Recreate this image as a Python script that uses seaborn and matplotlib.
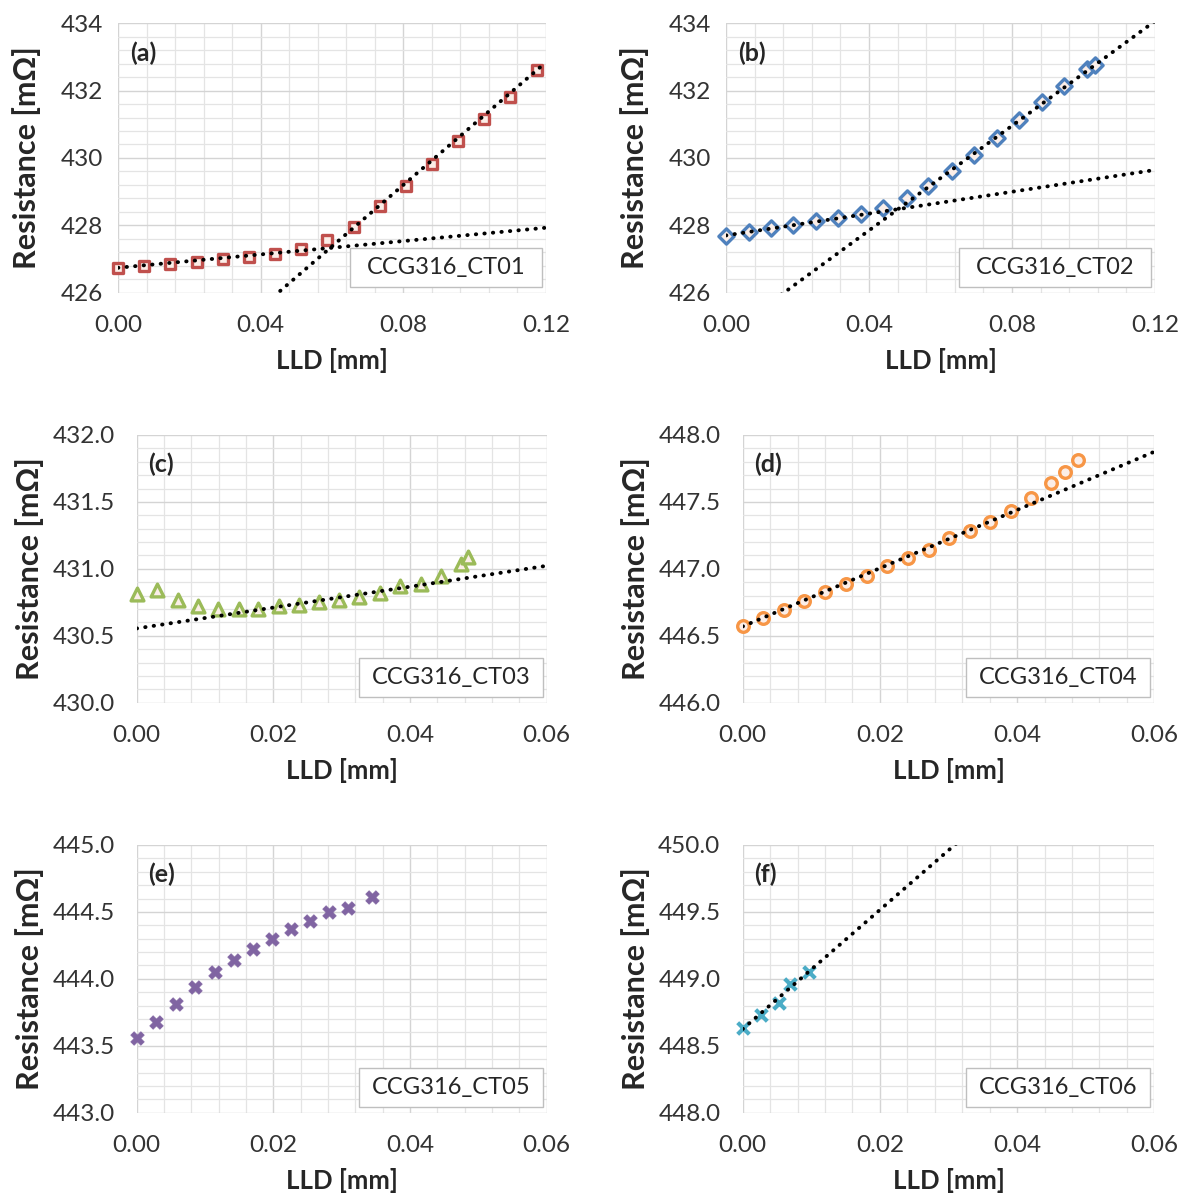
import matplotlib
matplotlib.use("Agg")
import numpy as np
import pandas as pd
import matplotlib.pyplot as plt
import matplotlib.ticker as mtick
from matplotlib.patches import Rectangle
import seaborn as sns

# ---- data (LLD in mm, resistance in mOhm) ----
ct01_lld = [0.0, 0.0074, 0.0146, 0.0221, 0.0295, 0.0367, 0.0440, 0.0513, 0.0587,
            0.0662, 0.0735, 0.0807, 0.0880, 0.0952, 0.1027, 0.1099, 0.1174]
ct01_res = [426.73, 426.78, 426.84, 426.90, 426.99, 427.06, 427.14, 427.29, 427.56,
            427.94, 428.57, 429.18, 429.83, 430.50, 431.15, 431.80, 432.60]

ct02_lld = [0.0, 0.0063, 0.0125, 0.0188, 0.0252, 0.0314, 0.0378, 0.0440, 0.0505,
            0.0566, 0.0631, 0.0695, 0.0757, 0.0820, 0.0883, 0.0945, 0.1009, 0.1032]
ct02_res = [427.68, 427.80, 427.92, 428.02, 428.12, 428.21, 428.33, 428.50, 428.80,
            429.18, 429.60, 430.10, 430.60, 431.12, 431.65, 432.13, 432.65, 432.75]

ct03_lld = [0.0, 0.0030, 0.0061, 0.0089, 0.0119, 0.0149, 0.0178, 0.0208, 0.0238,
            0.0267, 0.0296, 0.0326, 0.0356, 0.0386, 0.0416, 0.0445, 0.0474, 0.0485]
ct03_res = [430.81, 430.84, 430.77, 430.72, 430.70, 430.70, 430.70, 430.72, 430.73,
            430.75, 430.77, 430.79, 430.82, 430.87, 430.89, 430.95, 431.04, 431.09]

ct04_lld = [0.0, 0.0030, 0.0060, 0.0090, 0.0120, 0.0151, 0.0181, 0.0211, 0.0241,
            0.0272, 0.0301, 0.0331, 0.0361, 0.0391, 0.0420, 0.0450, 0.0470, 0.0489]
ct04_res = [446.57, 446.63, 446.69, 446.76, 446.83, 446.89, 446.95, 447.02, 447.08,
            447.14, 447.23, 447.28, 447.35, 447.43, 447.53, 447.64, 447.72, 447.81]

ct05_lld = [0.0, 0.0028, 0.0057, 0.0086, 0.0114, 0.0142, 0.0170, 0.0198, 0.0226,
            0.0254, 0.0282, 0.0309, 0.0345]
ct05_res = [443.56, 443.68, 443.81, 443.94, 444.05, 444.14, 444.22, 444.30, 444.37,
            444.43, 444.50, 444.53, 444.61]

ct06_lld = [0.0, 0.0027, 0.0053, 0.0069, 0.0096]
ct06_res = [448.63, 448.73, 448.82, 448.96, 449.05]

# linear trend lines (intercept, slope)
ct01_fits = [(426.74, 9.9), (421.91, 91.1)]
ct02_fits = [(427.70, 16.2), (424.74, 77.7)]
ct03_fits = [(430.555, 7.8)]
ct04_fits = [(446.57, 21.75)]
ct05_fits = []
ct06_fits = [(448.625, 44.5)]

panels = [
    ("(a)", "CCG316_CT01", ct01_lld, ct01_res, ct01_fits, "#C0504D", "s"),
    ("(b)", "CCG316_CT02", ct02_lld, ct02_res, ct02_fits, "#4F81BD", "D"),
    ("(c)", "CCG316_CT03", ct03_lld, ct03_res, ct03_fits, "#9BBB59", "^"),
    ("(d)", "CCG316_CT04", ct04_lld, ct04_res, ct04_fits, "#F79646", "o"),
    ("(e)", "CCG316_CT05", ct05_lld, ct05_res, ct05_fits, "#8064A2", "X"),
    ("(f)", "CCG316_CT06", ct06_lld, ct06_res, ct06_fits, "#4BACC6", "x"),
]

# axes limits / ticks per panel: (xmax, xmajor, ymin, ymax, ymajor, yfmt)
scales = [
    (0.12, 0.04, 426, 434, 2, "%.0f"),
    (0.12, 0.04, 426, 434, 2, "%.0f"),
    (0.06, 0.02, 430, 432, 0.5, "%.1f"),
    (0.06, 0.02, 446, 448, 0.5, "%.1f"),
    (0.06, 0.02, 443, 445, 0.5, "%.1f"),
    (0.06, 0.02, 448, 450, 0.5, "%.1f"),
]

# axes rectangles in figure fraction
rects = [
    (0.0992, 0.7557, 0.3596, 0.2249),
    (0.6101, 0.7557, 0.3605, 0.2249),
    (0.1149, 0.4134, 0.3445, 0.2235),
    (0.6241, 0.4134, 0.3459, 0.2235),
    (0.1149, 0.0712, 0.3445, 0.2235),
    (0.6241, 0.0712, 0.3459, 0.2235),
]
ylab_x = [-0.18, -0.18, -0.225, -0.225, -0.225, -0.225]
ytick_pad = [11, 11, 16, 16, 16, 16]

sns.set_theme(style="white")
plt.rcParams['font.family'] = ['Lato', 'DejaVu Sans']

fig = plt.figure(figsize=(11.9, 11.98), dpi=100)

for i, ((tag, name, xs, ys, fits, color, marker), sc, rect) in enumerate(zip(panels, scales, rects)):
    xmax, xmaj, ymin, ymax, ymaj, yfmt = sc
    ax = fig.add_axes(rect)
    df = pd.DataFrame({"LLD": xs, "R": ys})

    if marker == "x":
        sns.scatterplot(data=df, x="LLD", y="R", ax=ax, marker="x", s=70,
                        color=color, linewidth=3.0, zorder=3, clip_on=False)
    elif marker == "X":
        sns.scatterplot(data=df, x="LLD", y="R", ax=ax, marker="X", s=95,
                        color=color, edgecolor=color, linewidth=0.5, zorder=3,
                        clip_on=False)
    else:
        size = {"s": 62, "D": 60, "^": 85, "o": 70}[marker]
        sns.scatterplot(data=df, x="LLD", y="R", ax=ax, marker=marker, s=size,
                        facecolor="#fbeee8", edgecolor=color, linewidth=2.4,
                        zorder=3, clip_on=False)

    xline = np.array([0.0, xmax])
    for a, b in fits:
        ax.plot(xline, a + b * xline, color="black", linestyle=(0, (0.1, 2.1)),
                linewidth=2.8, dash_capstyle="round", zorder=4)

    ax.set_xlim(0, xmax)
    ax.set_ylim(ymin, ymax)
    ax.xaxis.set_major_locator(mtick.MultipleLocator(xmaj))
    ax.xaxis.set_minor_locator(mtick.MultipleLocator(xmaj / 5))
    ax.yaxis.set_major_locator(mtick.MultipleLocator(ymaj))
    ax.yaxis.set_minor_locator(mtick.MultipleLocator(ymaj / 5))
    ax.xaxis.set_major_formatter(mtick.FormatStrFormatter("%.2f"))
    ax.yaxis.set_major_formatter(mtick.FormatStrFormatter(yfmt))
    ax.grid(which="major", color="#d4d4d4", linewidth=1.0)
    ax.grid(which="minor", color="#e4e4e4", linewidth=0.9)
    ax.set_axisbelow(True)
    for sp in ax.spines.values():
        sp.set_visible(False)
    ax.tick_params(which="both", length=0, labelsize=17.5, colors="#333333")
    ax.tick_params(axis="x", pad=16)
    ax.tick_params(axis="y", pad=ytick_pad[i])

    ax.set_xlabel("LLD [mm]", fontsize=18.5, fontweight="bold", va="top")
    ax.xaxis.set_label_coords(0.5, -0.205)
    ax.set_ylabel("Resistance [mΩ]", fontsize=22, fontweight="bold")
    ax.yaxis.set_label_coords(ylab_x[i], 0.5)

    ax.text(0.028, 0.89, tag, transform=ax.transAxes, fontsize=18,
            fontweight="bold", ha="left", va="center")
    ax.add_patch(Rectangle((0.542, 0.021), 0.448, 0.145, transform=ax.transAxes,
                           facecolor="white", edgecolor="#bfbfbf", linewidth=1.0,
                           zorder=5))
    ax.text(0.766, 0.094, name, transform=ax.transAxes, fontsize=17,
            ha="center", va="center", color="#262626", zorder=6)

fig.savefig("out.png", dpi=100)
